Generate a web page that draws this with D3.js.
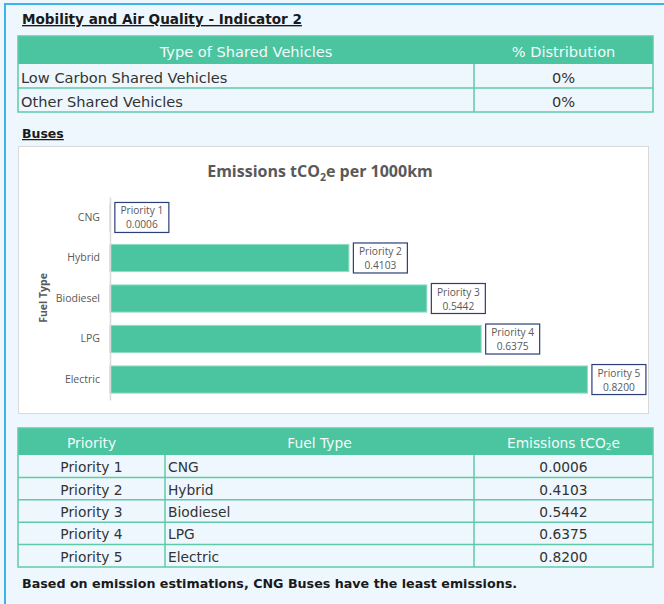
<!DOCTYPE html>
<meta charset="utf-8">
<style>
  body { margin: 0; background: #eef7fd; }
  svg text { font-family: "DejaVu Sans", sans-serif; }
</style>
<svg width="664" height="604"></svg>
<script src="https://cdn.jsdelivr.net/npm/d3@7"></script>
<script>

    // ---- data ----
    var sharedTypes = ["Low Carbon Shared Vehicles", "Other Shared Vehicles"];
    var sharedPct = ["0%", "0%"];

    var fuelTypes = ["CNG", "Hybrid", "Biodiesel", "LPG", "Electric"];
    var priorities = ["Priority 1", "Priority 2", "Priority 3", "Priority 4", "Priority 5"];
    var emissions = [0.0006, 0.4103, 0.5442, 0.6375, 0.8200];

    var green = "#4bc4a0",
        lineGreen = "#5fcaa9",
        chartText = "#595959";

    var svg = d3.select("svg");

    // page frame
    svg.append("rect").attr("width", 664).attr("height", 604).attr("fill", "#eef7fd");
    svg.append("path")
            .attr("d", "M5,604 V4 H664")
            .attr("fill", "none")
            .attr("stroke", "#3cb4e8")
            .attr("stroke-width", 2);

    // headings
    function heading(txt, xPos, yPos, size) {
        svg.append("text")
                .attr("x", xPos).attr("y", yPos)
                .style("font-weight", "bold")
                .style("font-size", size + "px")
                .style("text-decoration", "underline")
                .attr("fill", "#1a1a1a")
                .text(txt);
    }
    heading("Mobility and Air Quality - Indicator 2", 22, 24, 13.6);
    heading("Buses", 22, 138, 12.5);

    // generic table
    function drawTable(cols, top, headH, rowH, fs, header, rows, aligns) {
        var g = svg.append("g");
        var left = cols[0], right = cols[cols.length - 1];
        var bottom = top + headH + rowH * rows.length;

        g.append("rect")
                .attr("x", left).attr("y", top)
                .attr("width", right - left).attr("height", headH)
                .attr("fill", green);

        header.forEach(function (h, i) {
            var t = g.append("text")
                    .attr("x", (cols[i] + cols[i + 1]) / 2)
                    .attr("y", top + headH / 2 + 1)
                    .attr("text-anchor", "middle")
                    .attr("dominant-baseline", "central")
                    .attr("fill", "#f4fbf8")
                    .style("font-size", fs + "px");
            if (Array.isArray(h)) {
                t.append("tspan").text(h[0]);
                t.append("tspan").attr("dy", 4).style("font-size", "9px").text(h[1]);
                t.append("tspan").attr("dy", -4).text(h[2]);
            } else {
                t.text(h);
            }
        });

        rows.forEach(function (r, ri) {
            var cy = top + headH + rowH * ri + rowH / 2;
            r.forEach(function (cell, ci) {
                var a = aligns[ci];
                g.append("text")
                        .attr("x", a === "middle" ? (cols[ci] + cols[ci + 1]) / 2 : cols[ci] + 3)
                        .attr("y", cy + 1)
                        .attr("text-anchor", a)
                        .attr("dominant-baseline", "central")
                        .attr("fill", "#333")
                        .style("font-size", fs + "px")
                        .text(cell);
            });
            if (ri > 0) {
                g.append("line")
                        .attr("x1", left).attr("x2", right)
                        .attr("y1", top + headH + rowH * ri).attr("y2", top + headH + rowH * ri)
                        .attr("stroke", lineGreen).attr("stroke-width", 1.5);
            }
        });

        cols.slice(1, -1).forEach(function (c) {
            g.append("line")
                    .attr("x1", c).attr("x2", c)
                    .attr("y1", top + headH).attr("y2", bottom)
                    .attr("stroke", lineGreen).attr("stroke-width", 1.5);
        });
        g.append("rect")
                .attr("x", left).attr("y", top)
                .attr("width", right - left).attr("height", bottom - top)
                .attr("fill", "none")
                .attr("stroke", lineGreen).attr("stroke-width", 1.5);
    }

    drawTable([18, 474, 653], 36, 28, 24, 14.6,
            ["Type of Shared Vehicles", "% Distribution"],
            sharedTypes.map(function (d, i) { return [d, sharedPct[i]]; }),
            ["start", "middle"]);

    // ---- chart ----
    svg.append("rect")
            .attr("x", 18.5).attr("y", 146.5)
            .attr("width", 630).attr("height", 267)
            .attr("fill", "#fff")
            .attr("stroke", "#d9d9d9");

    var title = svg.append("text")
            .attr("x", 320).attr("y", 177)
            .attr("text-anchor", "middle")
            .attr("fill", chartText)
            .style("font-family", "'Open Sans', sans-serif")
            .style("font-weight", "bold")
            .style("font-size", "16px");
    title.append("tspan").text("Emissions tCO");
    title.append("tspan").attr("dy", 4).style("font-size", "10.5px").text("2");
    title.append("tspan").attr("dy", -4).text("e per 1000km");

    var x = d3.scaleLinear()
            .domain([0, 0.9])
            .range([110, 634]);

    var y = d3.scaleBand()
            .domain(fuelTypes)
            .range([197, 400])
            .paddingInner(0.33)
            .paddingOuter(0.17);

    var bars = fuelTypes.map(function (f, i) {
        return {fuel: f, value: emissions[i], priority: priorities[i]};
    });

    svg.append("g")
            .selectAll("rect")
            .data(bars)
            .enter().append("rect")
            .attr("x", x(0))
            .attr("y", (d) => y(d.fuel))
            .attr("width", (d) => x(d.value) - x(0))
            .attr("height", y.bandwidth())
            .attr("fill", green)
            .attr("stroke", "#8fdcc4")
            .attr("stroke-width", 1);

    var yAxis = svg.append("g")
            .attr("transform", "translate(" + x(0) + ",0)")
            .call(d3.axisLeft(y).tickSize(0).tickSizeOuter(0).tickPadding(10));
    yAxis.select(".domain").attr("stroke", "#d9d9d9").attr("stroke-width", 1.5);
    yAxis.selectAll("text")
            .attr("fill", chartText)
            .style("font-family", "'Open Sans', sans-serif")
            .style("font-size", "10.5px");

    svg.append("text")
            .attr("transform", "translate(47,298) rotate(-90)")
            .attr("text-anchor", "middle")
            .attr("fill", chartText)
            .style("font-family", "'Open Sans', sans-serif")
            .style("font-weight", "bold")
            .style("font-size", "10.5px")
            .text("Fuel Type");

    // data labels
    var lab = svg.append("g")
            .selectAll("g")
            .data(bars)
            .enter().append("g")
            .attr("transform", (d) => "translate(" + (x(d.value) + 4) + "," + (y(d.fuel) + y.bandwidth() / 2) + ")");
    lab.append("rect")
            .attr("x", 0.5).attr("y", -15)
            .attr("width", 54).attr("height", 30)
            .attr("fill", "#fff")
            .attr("stroke", "#2b3f7a")
            .attr("stroke-width", 1.2);
    lab.append("text")
            .attr("x", 27.5).attr("y", -3)
            .attr("text-anchor", "middle")
            .attr("fill", chartText)
            .style("font-family", "'Open Sans', sans-serif")
            .style("font-size", "10.2px")
            .text((d) => d.priority);
    lab.append("text")
            .attr("x", 27.5).attr("y", 11)
            .attr("text-anchor", "middle")
            .attr("fill", chartText)
            .style("font-family", "'Open Sans', sans-serif")
            .style("font-size", "10.2px")
            .text((d) => d.value.toFixed(4));

    // ---- priority table ----
    drawTable([18, 165, 474, 653], 428, 27, 22.4, 13.8,
            ["Priority", "Fuel Type", ["Emissions tCO", "2", "e"]],
            bars.map(function (d) { return [d.priority, d.fuel, d.value.toFixed(4)]; }),
            ["middle", "start", "middle"]);

    svg.append("text")
            .attr("x", 22).attr("y", 588)
            .style("font-weight", "bold")
            .style("font-size", "12.7px")
            .attr("fill", "#1a1a1a")
            .text("Based on emission estimations, CNG Buses have the least emissions.");

</script>
